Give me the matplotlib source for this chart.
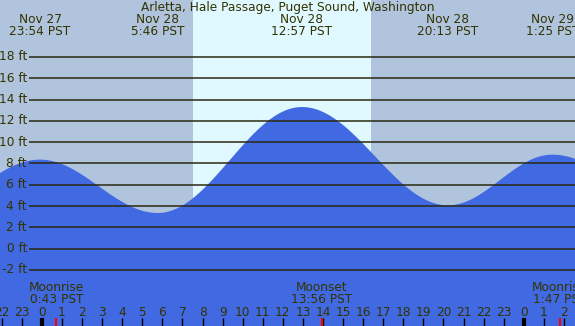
import numpy as np
import matplotlib
matplotlib.use("Agg")
import matplotlib.pyplot as plt

# ── Data (hours relative to Nov 28 00:00 PST) ───────────────
title = "Arletta, Hale Passage, Puget Sound, Washington"

# tide extremes; first and last lie just outside the visible window
tide_hours = [-5.95, -0.10, 5.77, 12.95, 20.22, 25.42, 32.5]
tide_feet = [3.5, 8.36, 3.35, 13.3, 4.07, 8.83, 2.5]

event_hours = [-0.10, 5.77, 12.95, 20.22, 25.42]
event_labels = ["Nov 27\n23:54 PST", "Nov 28\n5:46 PST", "Nov 28\n12:57 PST",
                "Nov 28\n20:13 PST", "Nov 29\n1:25 PST"]

moon_hours = [0.72, 13.93, 25.78]
moon_labels = ["Moonrise\n0:43 PST", "Moonset\n13:56 PST", "Moonrise\n1:47 PST"]

sunrise, sunset = 7.52, 16.38
level_ticks = list(range(-2, 19, 2))
hour_ticks = list(range(-2, 27))

# ── Style ───────────────────────────────────────────────────
NIGHT = "#b0c4de"
DAY = "#e0f8ff"
WATER = "#4169e1"
INK = "#333300"
LINE = "#2a2a10"
FS = 8.7
W, H = 575, 326
plt.rcParams["font.family"] = "DejaVu Sans"

fig = plt.figure(figsize=(W / 100, H / 100), dpi=100)
ax = fig.add_axes([0, 0, 1, 1])
x0, x1 = -2.09, 26.55
ax.set_xlim(x0, x1)
ax.set_ylim(-7.26, 23.35)
ax.axis("off")
fig.patch.set_facecolor(NIGHT)
ax.set_facecolor(NIGHT)

def py(y):  # pixel row from top -> axes fraction
    return 1 - y / H

xt = ax.get_xaxis_transform()

# day band
ax.axvspan(sunrise, sunset, color=DAY, lw=0, zorder=1)

# tide curve: cosine shape between successive extremes
t = np.linspace(x0, x1, 1200)
h = np.zeros_like(t)
for i in range(len(tide_hours) - 1):
    a, b = tide_hours[i], tide_hours[i + 1]
    m = (t >= a) & (t <= b)
    f = (t[m] - a) / (b - a)
    h[m] = tide_feet[i + 1] + (tide_feet[i] - tide_feet[i + 1]) * (1 + np.cos(np.pi * f)) / 2
ax.fill_between(t, h, -20, color=WATER, lw=0, zorder=2)

# level lines + labels
x_line = x0 + 29 / W * (x1 - x0)
for lv in level_ticks:
    ax.plot([x_line, x1], [lv, lv], color=LINE, lw=1.1, zorder=3, solid_capstyle="butt")
    ax.text(x0 + 27 / W * (x1 - x0), lv, f"{lv} ft", ha="right", va="center",
            fontsize=FS, color=INK, zorder=4)

# title and tide event labels
ax.text((x0 + x1) / 2, py(8), title, transform=xt, ha="center", va="center",
        fontsize=FS, color=INK)
for hr, lab in zip(event_hours, event_labels):
    ax.text(hr, py(25.5), lab, transform=xt, ha="center", va="center",
            fontsize=FS, color=INK, linespacing=0.95)

# moon labels
for hr, lab in zip(moon_hours, moon_labels):
    ax.text(hr, py(293.5), lab, transform=xt, ha="center", va="center",
            fontsize=FS, color=INK, linespacing=0.95)

# hour labels and ticks
for hr in hour_ticks:
    ax.text(hr, py(312), str(hr % 24), transform=xt, ha="center", va="center",
            fontsize=FS, color=INK)
    lw = 3 if hr % 24 == 0 else 1
    ax.vlines(hr, 0, py(318), transform=xt, color="black", lw=lw, zorder=5)
ax.vlines(moon_hours, 0, py(318), transform=xt, color="red", lw=1.5, zorder=5)

fig.savefig("out.png", dpi=100, facecolor=NIGHT)
